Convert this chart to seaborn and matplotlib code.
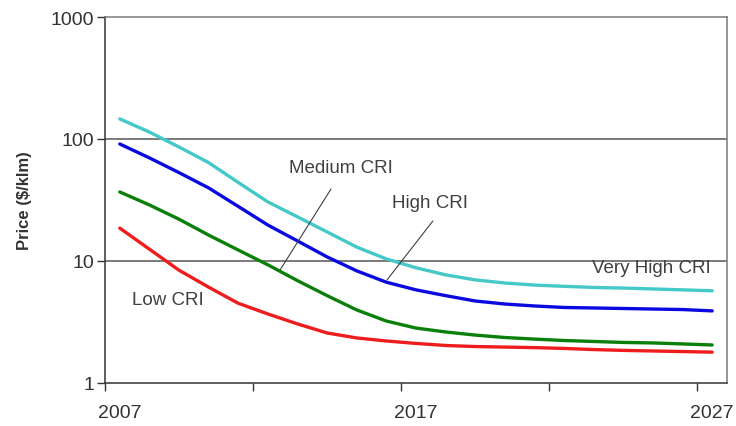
import numpy as np
import pandas as pd
import matplotlib
matplotlib.use("Agg")
import matplotlib.pyplot as plt
import seaborn as sns

years = list(range(2007, 2028))

very_high_cri = [146, 114, 86, 64, 44, 30.5, 23, 17.3, 13, 10.4, 8.8, 7.7, 7.0,
                 6.6, 6.35, 6.2, 6.07, 6.0, 5.9, 5.8, 5.7]
high_cri = [91, 70, 53, 39.7, 28, 19.7, 14.6, 10.8, 8.3, 6.7, 5.8, 5.2, 4.7,
            4.44, 4.28, 4.16, 4.12, 4.08, 4.04, 4.0, 3.9]
medium_cri = [36.8, 28.8, 22, 16.3, 12.3, 9.3, 6.9, 5.2, 3.97, 3.22, 2.82, 2.62,
              2.47, 2.36, 2.29, 2.23, 2.19, 2.15, 2.13, 2.09, 2.05]
low_cri = [18.6, 12.5, 8.4, 6.1, 4.5, 3.68, 3.05, 2.57, 2.34, 2.21, 2.11, 2.03,
           1.99, 1.97, 1.95, 1.92, 1.88, 1.85, 1.83, 1.81, 1.79]

series_names = ["Very High CRI", "High CRI", "Medium CRI", "Low CRI"]
series_values = [very_high_cri, high_cri, medium_cri, low_cri]
series_colors = ["#45c8c8", "#0a0ae0", "#0a7f0a", "#ee1c1c"]

y_ticks = [1, 10, 100, 1000]
y_tick_labels = ["1", "10", "100", "1000"]
x_label_years = [2007, 2017, 2027]

# annotation text: (label, x, y) and leader lines: (x0, y0, x1, y1)
text_labels = [
    ("Medium CRI", 2014.47, 57.9),
    ("High CRI", 2017.47, 29.9),
    ("Very High CRI", 2024.94, 8.77),
    ("Low CRI", 2008.62, 4.88),
]
leader_lines = [
    (2014.13, 38.9, 2012.41, 8.44),
    (2017.57, 21.3, 2016.02, 6.99),
]

df = pd.DataFrame({
    "Year": years * len(series_names),
    "Price": [v for vals in series_values for v in vals],
    "CRI": [n for n in series_names for _ in years],
})

sns.set_style("white")
plt.rcParams["font.family"] = ["Liberation Sans", "DejaVu Sans"]

fig = plt.figure(figsize=(7.36, 4.27), dpi=100)
ax = fig.add_axes([105 / 736, 1 - 384 / 427, 622 / 736, 366 / 427])

sns.lineplot(data=df, x="Year", y="Price", hue="CRI", hue_order=series_names,
             palette=dict(zip(series_names, series_colors)), linewidth=2.4,
             legend=False, ax=ax, zorder=3)
for line in ax.get_lines():
    line.set_solid_joinstyle("round")
    line.set_solid_capstyle("round")

ax.set_yscale("log")
ax.set_ylim(1, 1000)
ax.set_xlim(2006.5, 2027.5)

# horizontal grid at 10 and 100
for g in [10, 100]:
    ax.axhline(g, color="#7a7a7a", linewidth=1.4, zorder=1)

ax.set_yticks(y_ticks)
ax.set_yticklabels(y_tick_labels)
ax.yaxis.set_minor_locator(matplotlib.ticker.NullLocator())
ax.tick_params(axis="y", which="major", direction="out", length=6, width=1,
               color="#333333", labelsize=14, labelcolor="#333333", pad=2,
               left=True)

# category-style x axis: tick marks at boundaries, labels centred on years
ax.set_xticks([2006.5, 2011.5, 2016.5, 2021.5, 2026.5])
ax.set_xticklabels([])
ax.set_xticks(x_label_years, minor=True)
ax.set_xticklabels([str(y) for y in x_label_years], minor=True)
ax.tick_params(axis="x", which="major", direction="out", length=6, width=1,
               color="#333333", bottom=True)
ax.tick_params(axis="x", which="minor", length=0, labelsize=14,
               labelcolor="#333333", pad=15)

ax.set_xlabel("")
ax.set_ylabel("Price ($/klm)", fontsize=12, fontweight="bold", color="#333333",
              labelpad=13)

for side in ["left", "bottom"]:
    ax.spines[side].set_color("#333333")
    ax.spines[side].set_linewidth(1.1)
for side in ["top", "right"]:
    ax.spines[side].set_color("#7a7a7a")
    ax.spines[side].set_linewidth(1.1)

for label, x, y in text_labels:
    ax.text(x, y, label, ha="center", va="center", fontsize=13.5,
            color="#404040", zorder=4)

for x0, y0, x1, y1 in leader_lines:
    ax.plot([x0, x1], [y0, y1], color="#404040", linewidth=0.8, zorder=4)

fig.savefig("out.png", dpi=100)
